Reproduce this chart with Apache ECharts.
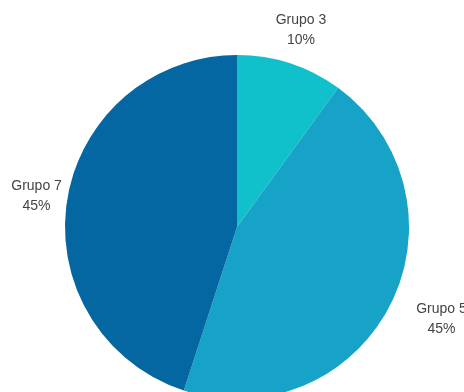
<!DOCTYPE html>
<html>
<head>
<meta charset="utf-8">
<style>
  html, body { margin: 0; padding: 0; background: #ffffff; }
  #chart { width: 464px; height: 392px; }
</style>
<script src="https://cdn.jsdelivr.net/npm/echarts@6/dist/echarts.min.js"></script>
</head>
<body>
<div id="chart"></div>
<script>
// Share of each group, clockwise from 12 o'clock
const categories = ['Grupo 3', 'Grupo 5', 'Grupo 7'];
const values = [10, 45, 45];
const colors = ['#10c1cc', '#17a2c7', '#0467a2'];

const chart = echarts.init(document.getElementById('chart'), null, { renderer: 'canvas' });

const slices = categories.map((name, i) => ({
  name,
  value: values[i],
  itemStyle: { color: colors[i] }
}));

// Transparent ring whose mid-radius carries the labels just outside the pie
const labelRing = categories.map((name, i) => ({
  name,
  value: values[i],
  itemStyle: { color: 'rgba(0,0,0,0)' },
  label: i === 1 ? { offset: [20, -2] } : (i === 2 ? { offset: [4, 2] } : {})
}));

chart.setOption({
  animation: false,
  series: [
    {
      type: 'pie',
      center: [237, 227],
      radius: [0, 172],
      startAngle: 90,
      clockwise: true,
      silent: true,
      label: { show: false },
      labelLine: { show: false },
      itemStyle: { borderWidth: 0 },
      data: slices
    },
    {
      type: 'pie',
      center: [237, 227],
      radius: [0, 408],
      startAngle: 90,
      clockwise: true,
      silent: true,
      z: 3,
      label: {
        show: true,
        position: 'inside',
        formatter: p => p.name + '\n' + p.value + '%',
        color: '#444444',
        fontFamily: 'Liberation Sans, Arial, sans-serif',
        fontSize: 14,
        lineHeight: 20,
        align: 'center'
      },
      labelLine: { show: false },
      itemStyle: { borderWidth: 0 },
      data: labelRing
    }
  ]
});
</script>
</body>
</html>
